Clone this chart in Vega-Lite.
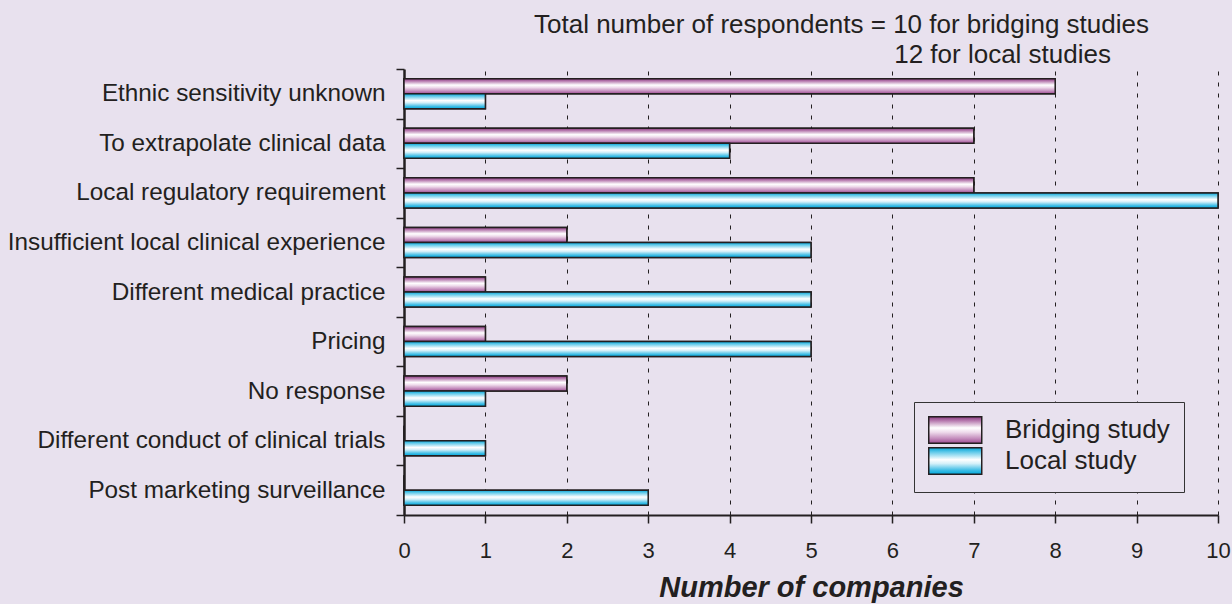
{
  "$schema": "https://vega.github.io/schema/vega-lite/v6.json",
  "width": 814,
  "height": 446,
  "autosize": "none",
  "padding": {"left": 404, "top": 69, "right": 14, "bottom": 89},
  "background": "#e8e1ee",
  "title": {
    "text": ["Total number of respondents = 10 for bridging studies", "12 for local studies\u2800\u2800"],
    "anchor": "end",
    "align": "right",
    "frame": "group",
    "dx": -69,
    "font": "Liberation Sans",
    "fontSize": 26,
    "fontWeight": "normal",
    "color": "#231f20",
    "lineHeight": 30,
    "baseline": "bottom",
    "offset": -36.5
  },
  "data": {
    "values": [
      {"category": "Ethnic sensitivity unknown", "study": "Bridging study", "count": 8},
      {"category": "Ethnic sensitivity unknown", "study": "Local study", "count": 1},
      {"category": "To extrapolate clinical data", "study": "Bridging study", "count": 7},
      {"category": "To extrapolate clinical data", "study": "Local study", "count": 4},
      {"category": "Local regulatory requirement", "study": "Bridging study", "count": 7},
      {"category": "Local regulatory requirement", "study": "Local study", "count": 10},
      {"category": "Insufficient local clinical experience", "study": "Bridging study", "count": 2},
      {"category": "Insufficient local clinical experience", "study": "Local study", "count": 5},
      {"category": "Different medical practice", "study": "Bridging study", "count": 1},
      {"category": "Different medical practice", "study": "Local study", "count": 5},
      {"category": "Pricing", "study": "Bridging study", "count": 1},
      {"category": "Pricing", "study": "Local study", "count": 5},
      {"category": "No response", "study": "Bridging study", "count": 2},
      {"category": "No response", "study": "Local study", "count": 1},
      {"category": "Different conduct of clinical trials", "study": "Bridging study", "count": 0},
      {"category": "Different conduct of clinical trials", "study": "Local study", "count": 1},
      {"category": "Post marketing surveillance", "study": "Bridging study", "count": 0},
      {"category": "Post marketing surveillance", "study": "Local study", "count": 3}
    ]
  },
  "encoding": {
    "y": {
      "field": "category",
      "type": "nominal",
      "sort": ["Ethnic sensitivity unknown", "To extrapolate clinical data", "Local regulatory requirement", "Insufficient local clinical experience", "Different medical practice", "Pricing", "No response", "Different conduct of clinical trials", "Post marketing surveillance"],
      "scale": {"paddingInner": 0, "paddingOuter": 0},
      "axis": {
        "title": null,
        "labelFont": "Liberation Sans",
        "labelFontSize": 24.3,
        "labelColor": "#231f20",
        "labelPadding": 11,
        "labelLimit": 0,
        "tickSize": 8,
        "tickBand": "extent",
        "tickColor": "#231f20",
        "tickWidth": 1.5,
        "domainColor": "#231f20",
        "domainWidth": 2.5,
        "grid": false
      }
    },
    "yOffset": {
      "field": "study",
      "type": "nominal",
      "sort": ["Bridging study", "Local study"],
      "scale": {"paddingOuter": 0.65, "paddingInner": 0}
    },
    "x": {
      "field": "count",
      "type": "quantitative",
      "scale": {"domain": [0, 10], "nice": false},
      "axis": {
        "title": "Number of companies",
        "titleFont": "Liberation Sans",
        "titleFontSize": 29,
        "titleFontWeight": "bold",
        "titleFontStyle": "italic",
        "titleColor": "#231f20",
        "titlePadding": 12,
        "values": [0, 1, 2, 3, 4, 5, 6, 7, 8, 9, 10],
        "format": "d",
        "labelFont": "Liberation Sans",
        "labelFontSize": 22,
        "labelColor": "#231f20",
        "labelPadding": 17,
        "labelFlush": false,
        "tickSize": 8,
        "tickColor": "#231f20",
        "tickWidth": 1.5,
        "domainColor": "#231f20",
        "domainWidth": 2,
        "grid": true,
        "gridColor": "#231f20",
        "gridDash": [4, 7],
        "gridWidth": 1
      }
    }
  },
  "layer": [
    {
      "mark": {"type": "bar", "strokeWidth": 1.5, "fill": "#b679ae"},
      "encoding": {
        "stroke": {
          "field": "study",
          "type": "nominal",
          "scale": {"domain": ["Bridging study", "Local study"], "range": ["#231f20", "#231f21"]},
          "legend": {
            "title": null,
            "orient": "none",
            "legendX": 510,
            "legendY": 333,
            "fillColor": "#e8e1ee",
            "strokeColor": "#333333",
            "padding": 14,
            "symbolType": "M-1,-1H3V1H-1Z",
            "symbolSize": 702,
            "symbolStrokeWidth": 1.5,
            "symbolOpacity": 1,
            "labelFont": "Liberation Sans",
            "labelFontSize": 26,
            "labelColor": "#231f20",
            "labelOffset": 49,
            "labelLimit": 0,
            "rowPadding": -4.5,
            "encoding": {
              "symbols": {
                "strokeWidth": {"value": 1.5},
                "fill": {"value": {"expr": "datum.value === 'Bridging study' ? {gradient: 'linear', x1: 0, y1: 0, x2: 0, y2: 1, stops: [{offset: 0, color: '#8a3a7e'}, {offset: 0.15, color: '#b679ae'}, {offset: 0.42, color: '#ffffff'}, {offset: 0.58, color: '#efdcec'}, {offset: 0.82, color: '#c48dbd'}, {offset: 1, color: '#9b4a90'}]} : {gradient: 'linear', x1: 0, y1: 0, x2: 0, y2: 1, stops: [{offset: 0, color: '#00a3d6'}, {offset: 0.15, color: '#5ac7e8'}, {offset: 0.45, color: '#ffffff'}, {offset: 0.6, color: '#d4f0f9'}, {offset: 0.85, color: '#3dbde5'}, {offset: 1, color: '#00a8dc'}]}"}}
              }
            }
          }
        }
      }
    },
    {
      "mark": {"type": "bar", "stroke": "#231f20", "strokeWidth": 1.5},
      "encoding": {
        "color": {
          "condition": {
            "test": "datum.study === 'Bridging study'",
            "value": {"gradient": "linear", "x1": 0, "y1": 0, "x2": 0, "y2": 1, "stops": [
              {"offset": 0, "color": "#8a3a7e"},
              {"offset": 0.15, "color": "#b679ae"},
              {"offset": 0.42, "color": "#ffffff"},
              {"offset": 0.58, "color": "#efdcec"},
              {"offset": 0.82, "color": "#c48dbd"},
              {"offset": 1, "color": "#9b4a90"}
            ]}
          },
          "value": {"gradient": "linear", "x1": 0, "y1": 0, "x2": 0, "y2": 1, "stops": [
            {"offset": 0, "color": "#00a3d6"},
            {"offset": 0.15, "color": "#5ac7e8"},
            {"offset": 0.45, "color": "#ffffff"},
            {"offset": 0.6, "color": "#d4f0f9"},
            {"offset": 0.85, "color": "#3dbde5"},
            {"offset": 1, "color": "#00a8dc"}
          ]}
        }
      }
    }
  ],
  "config": {"view": {"stroke": null}}
}
